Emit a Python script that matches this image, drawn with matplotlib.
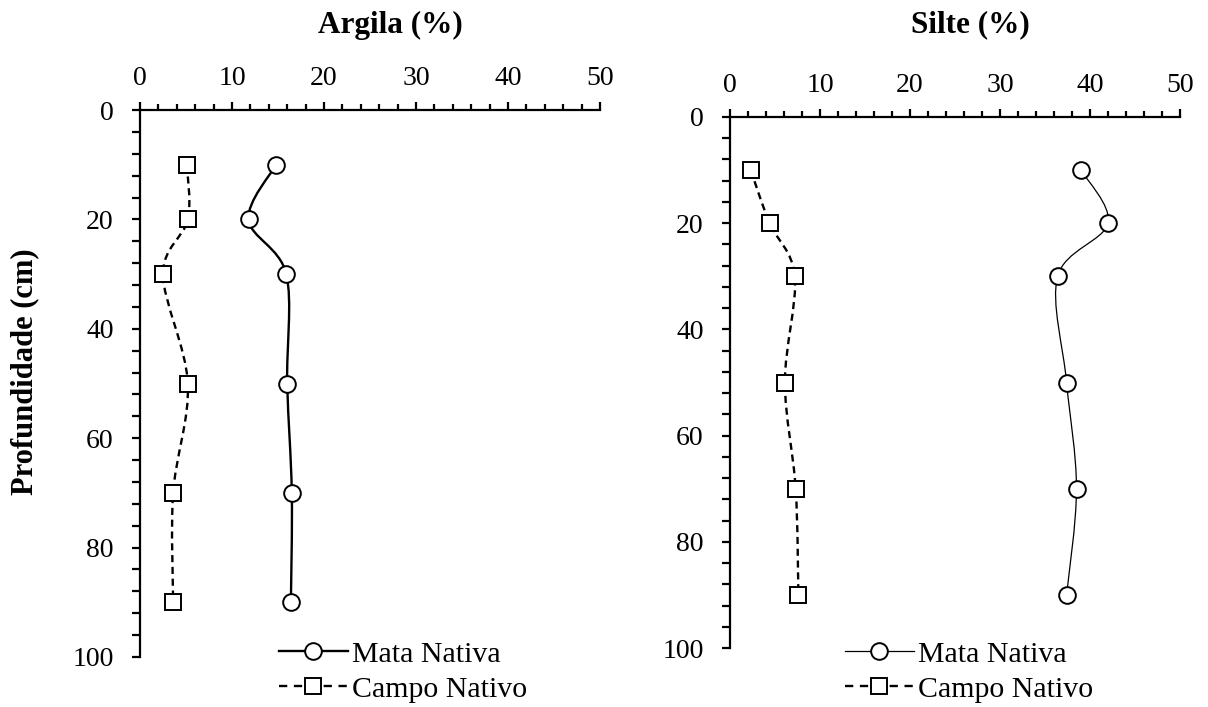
import numpy as np
import matplotlib.pyplot as plt
from matplotlib.path import Path
from matplotlib.patches import PathPatch
from matplotlib.lines import Line2D
from matplotlib.ticker import MultipleLocator

plt.rcParams['font.family'] = ['Liberation Serif', 'DejaVu Serif']

depth = [10, 20, 30, 50, 70, 90]
argila_mata = [14.8, 11.8, 15.9, 16.0, 16.5, 16.4]
argila_campo = [5.1, 5.2, 2.5, 5.2, 3.6, 3.6]
silte_mata = [39.0, 42.0, 36.4, 37.4, 38.5, 37.4]
silte_campo = [2.3, 4.4, 7.2, 6.1, 7.3, 7.6]

DASH = (0, (3, 2))


def smooth_path(x, y):
    # bezier through the points, like the "smoothed line" option in a spreadsheet
    p = np.column_stack([x, y]).astype(float)
    n = len(p)
    verts = [p[0]]
    codes = [Path.MOVETO]
    for i in range(n - 1):
        p0 = p[i - 1] if i > 0 else p[i]
        p3 = p[i + 2] if i + 2 < n else p[i + 1]
        c1 = p[i] + (p[i + 1] - p0) / 6.0
        c2 = p[i + 1] - (p3 - p[i]) / 6.0
        verts += [c1, c2, p[i + 1]]
        codes += [Path.CURVE4] * 3
    return Path(verts, codes)


def draw_panel(ax, mata, campo, lw_mata):
    ax.add_patch(PathPatch(smooth_path(mata, depth), fill=False, lw=lw_mata,
                           ec='black', zorder=2))
    ax.add_patch(PathPatch(smooth_path(campo, depth), fill=False, lw=1.7,
                           ec='black', ls=DASH, zorder=2))
    ax.plot(mata, depth, ls='none', marker='o', ms=12, mfc='white',
            mec='black', mew=1.4, zorder=3)
    ax.plot(campo, depth, ls='none', marker='s', ms=11, mfc='white',
            mec='black', mew=1.4, zorder=3)

    ax.set_xlim(0, 50)
    ax.set_ylim(100, 0)
    ax.xaxis.tick_top()
    ax.xaxis.set_major_locator(MultipleLocator(10))
    ax.xaxis.set_minor_locator(MultipleLocator(2))
    ax.yaxis.set_major_locator(MultipleLocator(20))
    ax.yaxis.set_minor_locator(MultipleLocator(4))
    for s in ['right', 'bottom']:
        ax.spines[s].set_visible(False)
    for s in ['left', 'top']:
        ax.spines[s].set_linewidth(1.6)
    ax.tick_params(axis='x', which='major', direction='out', length=6,
                   width=1.6, pad=8, labelsize=20)
    ax.tick_params(axis='x', which='minor', direction='out', length=4,
                   width=1.6)
    ax.tick_params(axis='y', which='major', direction='out', length=6,
                   width=1.6, pad=13, labelsize=20)
    ax.tick_params(axis='y', which='minor', direction='out', length=6,
                   width=1.6)

    handles = [
        Line2D([], [], color='black', lw=lw_mata, marker='o', ms=12,
               mfc='white', mec='black', mew=1.4),
        Line2D([], [], color='black', lw=1.7, ls=(0, (3.5, 2.8)), marker='s',
               ms=11, mfc='white', mec='black', mew=1.4),
    ]
    return handles


fig = plt.figure(figsize=(12.08, 7.07), dpi=100)
ax1 = fig.add_axes([140 / 1208, 1 - 657 / 707, 460 / 1208, 547 / 707])
ax2 = fig.add_axes([730 / 1208, 1 - 648 / 707, 450 / 1208, 531 / 707])

h1 = draw_panel(ax1, argila_mata, argila_campo, 1.7)
h2 = draw_panel(ax2, silte_mata, silte_campo, 0.9)

labels = ['Mata Nativa', 'Campo Nativo']
for ax, h, x0 in [(ax1, h1, 279), (ax2, h2, 845)]:
    ax.legend(h, labels, loc='upper left',
              bbox_to_anchor=(x0 / 1208, 1 - 641 / 707),
              bbox_transform=fig.transFigure, frameon=False, fontsize=21.5,
              handlelength=2.3, handletextpad=0.15, labelspacing=0.27,
              borderpad=0, borderaxespad=0, numpoints=1)

fig.text(390 / 1208, 1 - 25 / 707, 'Argila (%)', ha='center', va='center',
         fontsize=22.5, fontweight='bold')
fig.text(970 / 1208, 1 - 25 / 707, 'Silte (%)', ha='center', va='center',
         fontsize=22.5, fontweight='bold')
fig.text(25 / 1208, 1 - 372 / 707, 'Profundidade (cm)', ha='center',
         va='center', rotation=90, fontsize=22, fontweight='bold')

fig.savefig('out.png', dpi=100)
